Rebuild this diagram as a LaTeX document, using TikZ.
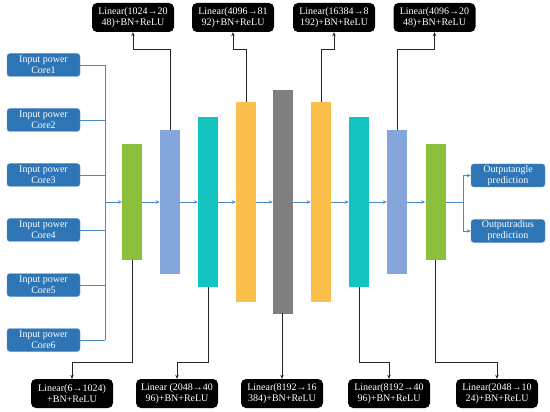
\documentclass[tikz,border=0pt]{standalone}
\usepackage{fontspec}
\setmainfont{Liberation Serif}
\usetikzlibrary{arrows.meta}
\definecolor{inblue}{HTML}{2E75B6}
\definecolor{lineblue}{HTML}{4A8AC8}
\definecolor{lgreen}{HTML}{8CC03C}
\definecolor{lblue}{HTML}{84A6DA}
\definecolor{lteal}{HTML}{14C4C0}
\definecolor{lorange}{HTML}{FBC04C}
\definecolor{lgray}{HTML}{7F7F7F}
\begin{document}
\begin{tikzpicture}[x=1pt, y=-1pt, every node/.style={font=\fontsize{10}{11}\selectfont},
    inbox/.style={rectangle, rounded corners=3pt, fill=inblue, draw=inblue!75!white, text=white,
      minimum width=73pt, minimum height=23pt, align=center, inner sep=1pt},
    layer/.style={rectangle, minimum width=20pt, inner sep=0pt},
    blk/.style={rectangle, rounded corners=5pt, fill=black, text=white,
      minimum width=82pt, minimum height=29pt, align=center, inner sep=1pt},
    bus/.style={draw=lineblue, line width=0.8pt},
    flow/.style={bus, -{Stealth[length=4pt,width=3.5pt]}},
    link/.style={draw=black!85, line width=1pt, -{Stealth[length=4pt,width=3.5pt]}}]
  \useasboundingbox (0,0) rectangle (550,412);

  % Eingaenge
  \foreach \i/\y in {1/65, 2/120, 3/175, 4/230, 5/285, 6/340}
    \node[inbox] (in\i) at (43.5,\y) {Input power\\Core\i};

  % Schichten
  \foreach \n/\x/\h/\c in {1/132/116/lgreen, 2/170/143/lblue, 3/208/170/lteal,
      4/246/199/lorange, 5/283/223/lgray, 6/321/199/lorange, 7/359/170/lteal,
      8/397/143/lblue, 9/435.5/116/lgreen}
    \node[layer, fill=\c, minimum height=\h pt] (b\n) at (\x,202) {};

  % Ausgaenge
  \node[inbox, minimum width=74pt] (out1) at (508,175.5) {Outputangle\\prediction};
  \node[inbox, minimum width=74pt] (out2) at (508,231) {Outputradius\\prediction};

  % Beschriftungen oben
  \node[blk] (t1) at (133,17.5) {Linear(1024→20\\48)+BN+ReLU};
  \node[blk] (t2) at (233,17.5) {Linear(4096→81\\92)+BN+ReLU};
  \node[blk] (t3) at (334,17.5) {Linear(16384→8\\192)+BN+ReLU};
  \node[blk] (t4) at (434.5,17.5) {Linear(4096→20\\48)+BN+ReLU};

  % Beschriftungen unten
  \node[blk] (d1) at (72,393.5) {Linear(6→1024)\\+BN+ReLU};
  \node[blk] (d2) at (177,393.5) {Linear (2048→40\\96)+BN+ReLU};
  \node[blk] (d3) at (282,393.5) {Linear(8192→16\\384)+BN+ReLU};
  \node[blk] (d4) at (389,393.5) {Linear(8192→40\\96)+BN+ReLU};
  \node[blk] (d5) at (497,393.5) {Linear(2048→10\\24)+BN+ReLU};

  % Sammelleitung
  \coordinate (busT) at (105,65);
  \coordinate (busB) at (105,340);
  \draw[bus] (busT) -- (busB);
  \foreach \i in {1,...,6}
    \draw[bus] (in\i.east) -- (in\i.east -| busT);
  \draw[flow] (busT |- b1.west) -- (b1.west);

  % Datenfluss
  \foreach \i/\j in {1/2, 2/3, 3/4, 4/5, 5/6, 6/7, 7/8, 8/9}
    \draw[flow] (b\i.east) -- (b\j.west);

  \coordinate (split) at (463,202);
  \draw[bus] (b9.east) -- (split);
  \draw[flow] (split) |- (out1.west);
  \draw[flow] (split) |- (out2.west);

  % Verbindungen zu den Beschriftungen
  \coordinate (topY) at (0,50);
  \coordinate (botY) at (0,362);
  \draw[link] (b2.north) -- (b2.north |- topY) -| (t1.south);
  \draw[link] (b4.north) -- (b4.north |- topY) -| (t2.south);
  \draw[link] (b6.north) -- (b6.north |- topY) -| (t3.south);
  \draw[link] (b8.north) -- (b8.north |- topY) -| (t4.south);

  \draw[link] (b1.south) -- (b1.south |- botY) -| (d1.north);
  \draw[link] (b3.south) -- (b3.south |- botY) -| (d2.north);
  \draw[link] (b5.south) -- (b5.south -| d3.north) -- (d3.north);
  \draw[link] (b7.south) -- (b7.south |- botY) -| (d4.north);
  \draw[link] (b9.south) -- (b9.south |- botY) -| (d5.north);
\end{tikzpicture}
\end{document}
